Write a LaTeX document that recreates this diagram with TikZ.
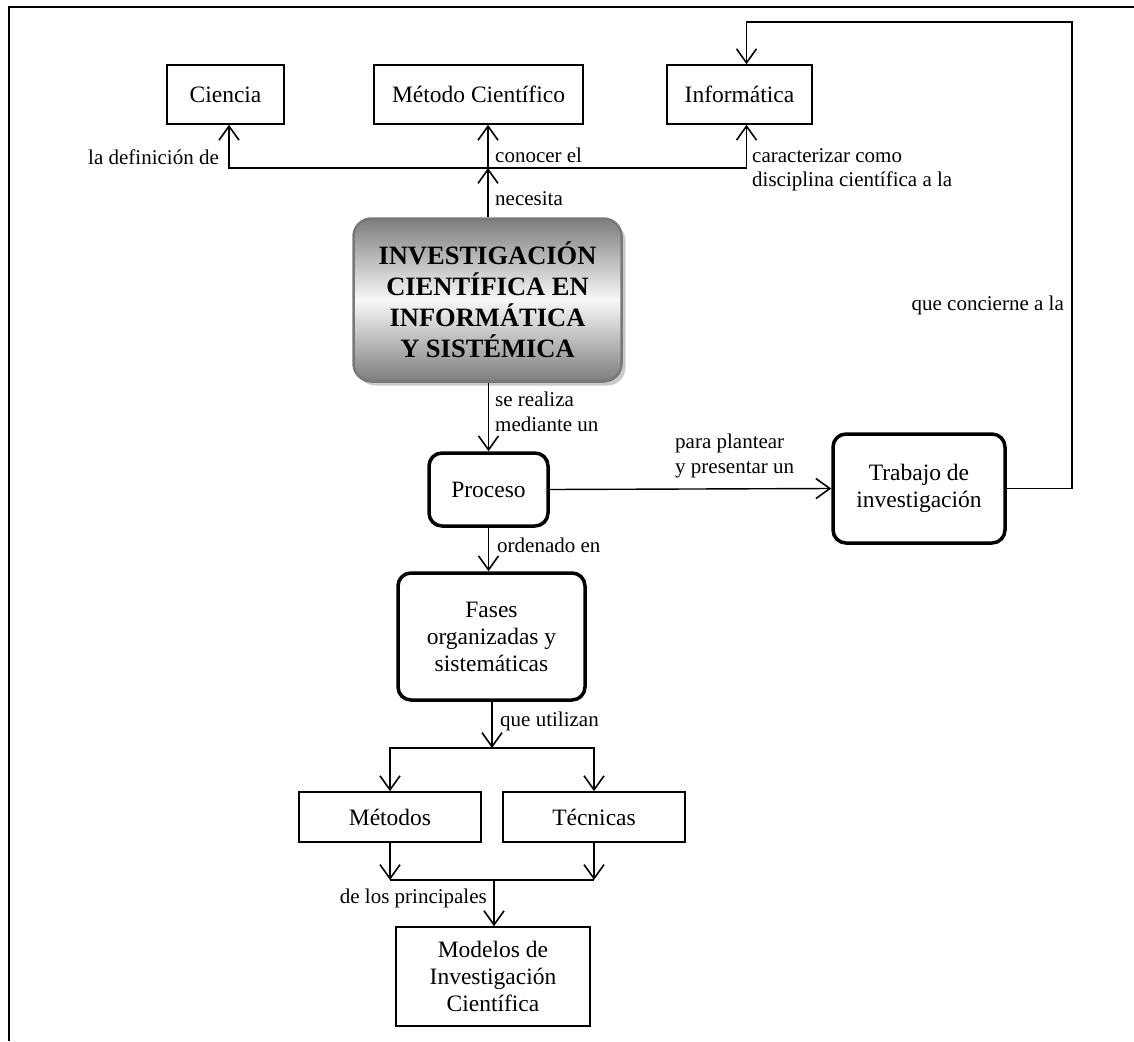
\documentclass[tikz,border=0pt]{standalone}
\usepackage{fontspec}
\setmainfont{Liberation Serif}
\usetikzlibrary{arrows.meta,shadows,calc}
\begin{document}
\begin{tikzpicture}[x=1pt,y=-1pt,
  boxtxt/.style={font=\fontsize{23.5}{27}\selectfont,align=center,inner sep=0pt},
  box/.style={boxtxt,draw,line width=1.6pt},
  rbox/.style={boxtxt,draw,line width=3.5pt,rounded corners=13pt},
  lbl/.style={font=\fontsize{21}{24.5}\selectfont,inner sep=0pt,align=left},
  conn/.style={line width=1.4pt},
  arr/.style={conn,-{Straight Barb[length=14pt,width=20pt,line width=1.6pt]}}]
\useasboundingbox (0,0) rectangle (1134,1041);
% frame
\draw[line width=1.5pt] (9,1041) -- (9,7) -- (1134,7);

% top boxes
\node[box,minimum width=117pt,minimum height=59pt] (cien) at (225.5,94.5) {Ciencia};
\node[box,minimum width=209pt,minimum height=59pt] (meto) at (478.5,94.5) {Método Científico};
\node[box,minimum width=145pt,minimum height=59pt] (info) at (739.5,94.5) {Informática};

% main
\node[draw={rgb,255:red,120;green,120;blue,120},line width=2.5pt,rounded corners=18pt,
      top color={rgb,255:red,125;green,125;blue,125},
      bottom color={rgb,255:red,125;green,125;blue,125},
      middle color={rgb,255:red,248;green,248;blue,248},
      drop shadow={shadow xshift=4pt,shadow yshift=-4pt,fill=gray!70,opacity=0.6},
      minimum width=268pt,minimum height=163pt,align=center,inner sep=0pt,
      font=\fontsize{26.5}{31}\selectfont\bfseries] (main) at (487.5,300)
      {INVESTIGACIÓN\\CIENTÍFICA EN\\INFORMÁTICA\\Y SISTÉMICA};

% process chain
\node[rbox,minimum width=119pt,minimum height=73pt] (proc) at (488.5,489.5) {Proceso};
\node[rbox,minimum width=172pt,minimum height=109pt] (trab) at (919,488.5) {Trabajo de\\investigación};
\node[rbox,minimum width=187pt,minimum height=127pt] (fase) at (491.5,636.5) {Fases\\organizadas y\\sistemáticas};
\node[box,minimum width=182pt,minimum height=50pt] (mtds) at (390,817) {Métodos};
\node[box,minimum width=182pt,minimum height=50pt] (tecn) at (594,817) {Técnicas};
\node[box,minimum width=194pt,minimum height=99pt] (mode) at (493,976.5) {Modelos de\\Investigación\\Científica};

% junctions
\coordinate (j1) at (488,168);
\coordinate (top) at (1072,22);
\coordinate (j2) at (492,748);
\coordinate (j3) at (494,880);

% connectors top
\draw[arr] (j1 |- main.north) -- (j1);
\draw[arr] (j1) -- (j1 |- meto.south);
\draw[arr] (j1) -| ($(cien.south)+(3.5,0)$);
\draw[arr] (j1) -| ($(info.south)+(7,0)$);

% main -> proceso
\draw[arr] (main.south -| proc.north) -- (proc.north);
\draw[arr] (proc.east) -- (trab.west);
\draw[arr] (trab.east) -| (top) -| ($(info.north)+(7,0)$);
\draw[arr] (proc.south) -- (proc.south |- fase.north);

% fases split
\draw[arr] (j2 |- fase.south) -- (j2);
\draw[arr] (j2) -| (mtds.north);
\draw[arr] (j2) -| (tecn.north);
\draw[arr] (mtds.south) -- (mtds.south |- j3);
\draw[arr] (tecn.south) -- (tecn.south |- j3);
\draw[conn] (mtds.south |- j3) -- (tecn.south |- j3);
\draw[arr] (j3) -- (j3 |- mode.north);

% labels
\node[lbl,anchor=east] (l1) at (219,157) {la definición de};
\node[lbl,anchor=west] (l2) at (495,155) {conocer el};
\node[lbl,anchor=west] (l3) at (495,199) {necesita};
\node[lbl,anchor=west] (l4) at (752,170) {caracterizar como\\disciplina científica a la};
\node[lbl,anchor=east] (l5) at (1064,305) {que concierne a la};
\node[lbl,anchor=west] (l6) at (495,412) {se realiza\\mediante un};
\node[lbl,anchor=west] (l7) at (675,456) {para plantear\\y presentar un};
\node[lbl,anchor=west] (l8) at (497,545) {ordenado en};
\node[lbl,anchor=west] (l9) at (500,721) {que utilizan};
\node[lbl,anchor=east] (l10) at (487,898) {de los principales};
\end{tikzpicture}
\end{document}
